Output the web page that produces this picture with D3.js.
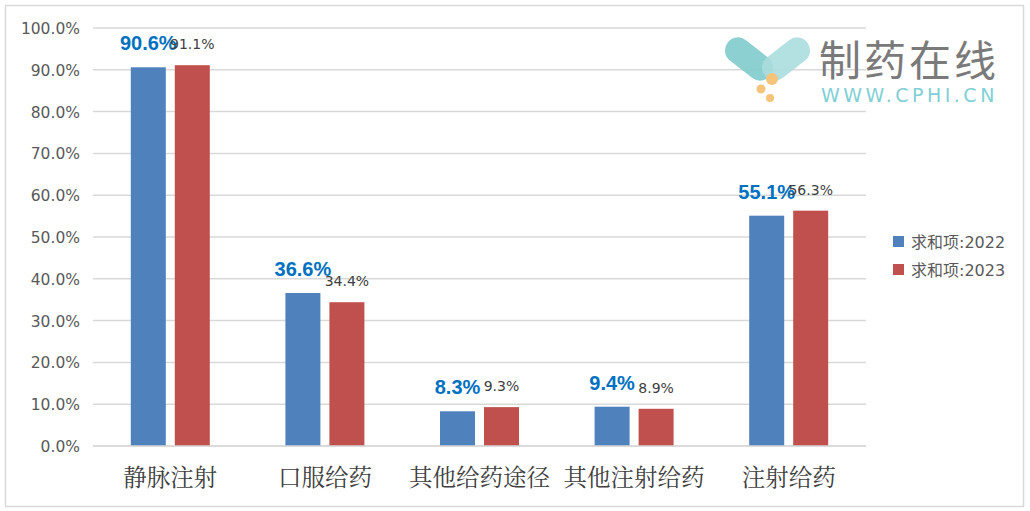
<!DOCTYPE html>
<html><head><meta charset="utf-8">
<script src="https://cdn.jsdelivr.net/npm/d3@7"></script>
<style>body{margin:0;background:#fff}svg{display:block}</style>
</head><body>
<script>
const categories = ["静脉注射","口服给药","其他给药途径","其他注射给药","注射给药"];
const seriesNames = ["求和项:2022","求和项:2023"];
const values2022 = [0.906,0.366,0.083,0.094,0.551];
const values2023 = [0.911,0.344,0.093,0.089,0.563];
const yTicks = [0,0.1,0.2,0.3,0.4,0.5,0.6,0.7,0.8,0.9,1.0];
const colors = ["#4F81BD","#C0504D"];

const W=1030,H=511;
const svg=d3.select("body").append("svg").attr("width",W).attr("height",H);
svg.append("rect").attr("x",5.5).attr("y",5.5).attr("width",1018).attr("height",501)
  .attr("fill","#fff").attr("stroke","#d9d9d9").attr("stroke-width",1.5);

const x0=d3.scaleBand().domain(categories).range([93,866]).paddingInner(0).paddingOuter(0);
const y=d3.scaleLinear().domain([0,1]).range([446,28]);

// gridlines
svg.append("g").selectAll("line").data(yTicks).join("line")
  .attr("x1",93).attr("x2",866).attr("y1",d=>y(d)).attr("y2",d=>y(d))
  .attr("stroke","#d9d9d9").attr("stroke-width",1.5);

// y labels
const yAxis=d3.axisLeft(y).tickValues(yTicks).tickFormat(d3.format(".1%")).tickSize(0).tickPadding(0);
const ga=svg.append("g").attr("transform","translate(80,0)").call(yAxis);
ga.select(".domain").remove();
ga.selectAll("text").attr("font-family","'DejaVu Sans', sans-serif").attr("font-size",15.5)
  .attr("fill","#595959").attr("dy","0.36em");

// watermark
const wm=svg.append("g");
wm.append("rect").attr("x",722).attr("y",46).attr("width",54).attr("height",26).attr("rx",13)
  .attr("transform","rotate(38 749 59)").attr("fill","#7fcbcc").attr("opacity",0.9);
wm.append("rect").attr("x",759).attr("y",46).attr("width",54).attr("height",26).attr("rx",13)
  .attr("transform","rotate(-38 786 59)").attr("fill","#abdddd").attr("opacity",0.9);
[[772,79,6],[761,89,4.5],[770,98,4]].forEach(c=>wm.append("circle").attr("cx",c[0]).attr("cy",c[1]).attr("r",c[2]).attr("fill","#f6c37a"));
wm.append("text").attr("x",819).attr("y",76).text("制药在线").attr("font-family","'Noto Sans CJK SC'")
  .attr("font-size",42).attr("fill","#7a7a7a").attr("letter-spacing",3);
wm.append("text").attr("x",821).attr("y",102).text("WWW.CPHI.CN").attr("font-family","'DejaVu Sans', sans-serif")
  .attr("font-size",19).attr("fill","#7fd0d6").attr("letter-spacing",3.5);

// bars
const bw=35, gap=9, off=(x0.bandwidth()-(2*bw+gap))/2;
const series=[values2022,values2023];
series.forEach((vals,si)=>{
  const g=svg.append("g");
  g.selectAll("rect").data(vals).join("rect")
    .attr("x",(d,i)=>x0(categories[i])+off+si*(bw+gap))
    .attr("y",d=>y(d)).attr("width",bw).attr("height",d=>y(0)-y(d))
    .attr("fill",colors[si]);
});
svg.append("line").attr("x1",93).attr("x2",866).attr("y1",y(0)).attr("y2",y(0)).attr("stroke","#d9d9d9").attr("stroke-width",1.5);

// labels
const fmt=d3.format(".1%");
svg.append("g").selectAll("text").data(values2022).join("text")
  .attr("x",(d,i)=>x0(categories[i])+off+bw/2).attr("y",d=>y(d)-17)
  .attr("text-anchor","middle").text(d=>fmt(d))
  .attr("font-family","'Liberation Sans', sans-serif").attr("font-weight","bold").attr("font-size",20).attr("fill","#0070C0");
svg.append("g").selectAll("text").data(values2023).join("text")
  .attr("x",(d,i)=>x0(categories[i])+off+bw+gap+bw/2).attr("y",d=>y(d)-16)
  .attr("text-anchor","middle").text(d=>fmt(d))
  .attr("font-family","'DejaVu Sans', sans-serif").attr("font-size",14).attr("fill","#404040");

// x labels
svg.append("g").selectAll("text").data(categories).join("text")
  .attr("x",d=>x0(d)+x0.bandwidth()/2).attr("y",486).attr("text-anchor","middle").text(d=>d)
  .attr("font-family","'Noto Serif CJK SC','Noto Sans CJK SC'").attr("font-size",23.5).attr("fill","#404040");

// legend
const lg=svg.append("g");
seriesNames.forEach((n,i)=>{
  lg.append("rect").attr("x",893).attr("y",236+i*28).attr("width",11).attr("height",11).attr("fill",colors[i]);
  lg.append("text").attr("x",911).attr("y",248+i*28).text(n)
    .attr("font-family","'DejaVu Sans','Noto Sans CJK SC'").attr("font-size",16).attr("fill","#595959");
});
</script>
</body></html>
